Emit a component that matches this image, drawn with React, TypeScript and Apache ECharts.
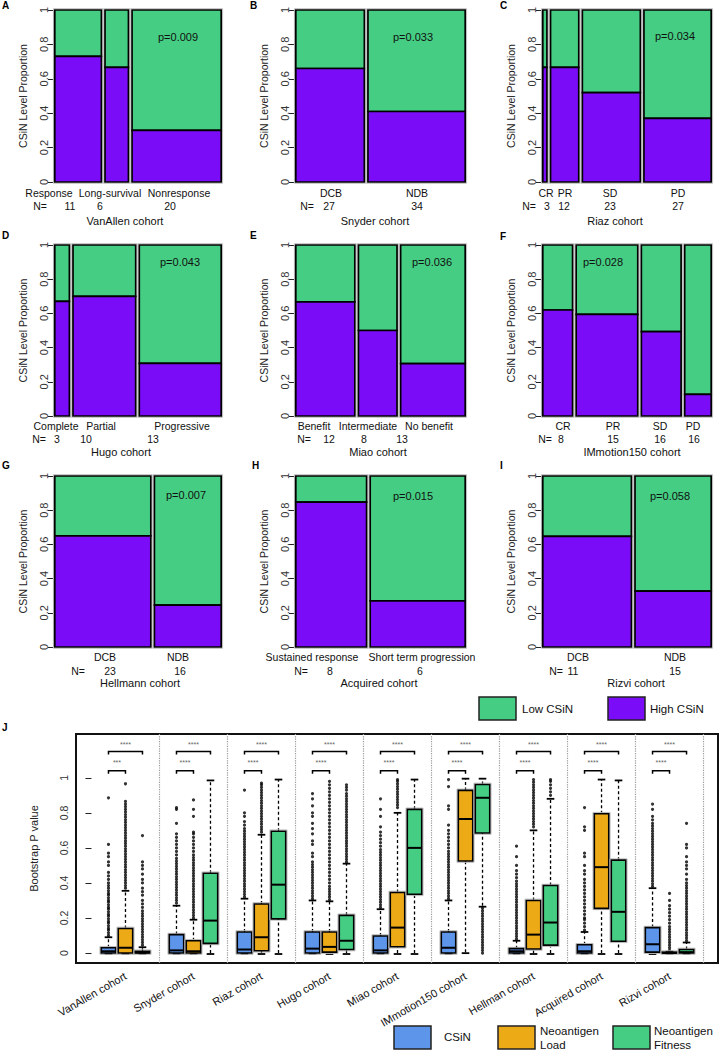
import React, { useEffect, useRef } from 'react';
import * as echarts from 'echarts';

const FONT = "'Liberation Sans', Arial, sans-serif";
const GREEN = '#45CE83';
const PURPLE = '#7A0CF8';
const BLUE = '#5C95EA';
const ORANGE = '#EDAA17';

// ---------- Mosaic panels A-I ----------
const panelLetters = ['A', 'B', 'C', 'D', 'E', 'F', 'G', 'H', 'I'];
const cohortTitles = ['VanAllen cohort', 'Snyder cohort', 'Riaz cohort', 'Hugo cohort', 'Miao cohort', 'IMmotion150 cohort', 'Hellmann cohort', 'Acquired cohort', 'Rizvi cohort'];
const groupLabels = [
  ['Response', 'Long-survival', 'Nonresponse'],
  ['DCB', 'NDB'],
  ['CR', 'PR', 'SD', 'PD'],
  ['Complete', 'Partial', 'Progressive'],
  ['Benefit', 'Intermediate', 'No benefit'],
  ['CR', 'PR', 'SD', 'PD'],
  ['DCB', 'NDB'],
  ['Sustained response', 'Short term progression'],
  ['DCB', 'NDB'],
];
const groupN = [[11, 6, 20], [27, 34], [3, 12, 23, 27], [3, 10, 13], [12, 8, 13], [8, 15, 16, 16], [23, 16], [8, 6], [11, 15]];
// relative tile widths
const tileWidths = [
  [0.295, 0.159, 0.545],
  [0.417, 0.583],
  [0.045, 0.185, 0.358, 0.412],
  [0.107, 0.39, 0.503],
  [0.362, 0.244, 0.394],
  [0.194, 0.379, 0.252, 0.175],
  [0.586, 0.414],
  [0.43, 0.57],
  [0.536, 0.464],
];
// proportion of High CSiN (purple) in each tile
const highShare = [
  [0.73, 0.667, 0.30],
  [0.66, 0.41],
  [0.667, 0.667, 0.52, 0.37],
  [0.67, 0.70, 0.308],
  [0.667, 0.50, 0.306],
  [0.62, 0.594, 0.493, 0.126],
  [0.65, 0.245],
  [0.847, 0.27],
  [0.647, 0.327],
];
const pValues = ['p=0.009', 'p=0.033', 'p=0.034', 'p=0.043', 'p=0.036', 'p=0.028', 'p=0.007', 'p=0.015', 'p=0.058'];

// ---------- Panel J ----------
const jCohorts = ['VanAllen cohort', 'Snyder cohort', 'Riaz cohort', 'Hugo cohort', 'Miao cohort', 'IMmotion150 cohort', 'Hellman cohort', 'Acquired cohort', 'Rizvi cohort'];
const jTicks = [0, 0.2, 0.4, 0.6, 0.8, 1];
// [min, Q1, median, Q3, max]
const csinStats = [
  [0, 0, 0.01, 0.03, 0.09],
  [0, 0, 0.015, 0.105, 0.27],
  [0, 0, 0.02, 0.12, 0.31],
  [0, 0, 0.025, 0.12, 0.3],
  [0, 0, 0.015, 0.097, 0.25],
  [0, 0, 0.03, 0.12, 0.3],
  [0, 0, 0.01, 0.025, 0.07],
  [0, 0, 0.01, 0.047, 0.12],
  [0, 0.005, 0.05, 0.145, 0.37],
];
const loadStats = [
  [0, 0, 0.03, 0.14, 0.355],
  [0, 0, 0.01, 0.07, 0.19],
  [0, 0.013, 0.09, 0.28, 0.675],
  [0, 0.005, 0.035, 0.12, 0.295],
  [0, 0.036, 0.145, 0.345, 0.8],
  [0.005, 0.525, 0.765, 0.928, 0.995],
  [0, 0.023, 0.105, 0.3, 0.7],
  [0, 0.255, 0.49, 0.795, 0.99],
  [0, 0, 0, 0.005, 0.008],
];
const fitStats = [
  [0, 0, 0.003, 0.01, 0.033],
  [0, 0.055, 0.185, 0.455, 0.985],
  [0, 0.195, 0.39, 0.695, 0.99],
  [0, 0.02, 0.07, 0.215, 0.51],
  [0, 0.335, 0.6, 0.82, 0.99],
  [0.27, 0.685, 0.886, 0.962, 0.995],
  [0, 0.045, 0.174, 0.385, 0.88],
  [0, 0.067, 0.235, 0.53, 0.985],
  [0, 0, 0.005, 0.02, 0.06],
];
const csinOutliers = [
  [0.1, 0.115, 0.13, 0.14, 0.155, 0.17, 0.18, 0.195, 0.21, 0.22, 0.235, 0.25, 0.26, 0.275, 0.29, 0.3, 0.315, 0.33, 0.34, 0.355, 0.37, 0.385, 0.4, 0.42, 0.44, 0.46, 0.5, 0.52, 0.55, 0.57, 0.62, 0.886],
  [0.285, 0.3, 0.315, 0.33, 0.345, 0.36, 0.375, 0.39, 0.405, 0.42, 0.435, 0.45, 0.465, 0.48, 0.495, 0.51, 0.525, 0.54, 0.56, 0.58, 0.6, 0.62, 0.64, 0.66, 0.68, 0.74, 0.82, 0.83],
  [0.32, 0.335, 0.35, 0.365, 0.38, 0.395, 0.41, 0.425, 0.44, 0.455, 0.47, 0.485, 0.5, 0.515, 0.53, 0.545, 0.56, 0.575, 0.59, 0.605, 0.62, 0.635, 0.65, 0.665, 0.68, 0.695, 0.71, 0.73, 0.75, 0.78, 0.8, 0.93],
  [0.31, 0.325, 0.34, 0.355, 0.37, 0.385, 0.4, 0.415, 0.43, 0.445, 0.46, 0.475, 0.49, 0.505, 0.52, 0.55, 0.57, 0.62, 0.64, 0.68, 0.71, 0.74, 0.78, 0.8, 0.84, 0.88, 0.91],
  [0.26, 0.275, 0.29, 0.305, 0.32, 0.335, 0.35, 0.365, 0.38, 0.395, 0.41, 0.425, 0.44, 0.455, 0.47, 0.485, 0.5, 0.515, 0.53, 0.545, 0.56, 0.575, 0.59, 0.61, 0.63, 0.65, 0.67, 0.69, 0.72, 0.78, 0.82, 0.88],
  [0.31, 0.325, 0.34, 0.355, 0.37, 0.385, 0.4, 0.415, 0.43, 0.445, 0.46, 0.475, 0.49, 0.505, 0.52, 0.535, 0.55, 0.565, 0.58, 0.6, 0.62, 0.64, 0.66, 0.68, 0.7, 0.73, 0.82, 0.84, 0.95, 0.99],
  [0.08, 0.095, 0.11, 0.125, 0.14, 0.155, 0.17, 0.185, 0.2, 0.215, 0.23, 0.245, 0.26, 0.275, 0.29, 0.305, 0.32, 0.335, 0.35, 0.365, 0.38, 0.395, 0.41, 0.43, 0.45, 0.47, 0.5, 0.55, 0.61],
  [0.13, 0.15, 0.17, 0.19, 0.2, 0.22, 0.24, 0.26, 0.28, 0.3, 0.32, 0.34, 0.36, 0.38, 0.4, 0.42, 0.45, 0.47, 0.5, 0.55, 0.57, 0.7, 0.72, 0.83],
  [0.38, 0.395, 0.41, 0.425, 0.44, 0.455, 0.47, 0.485, 0.5, 0.515, 0.53, 0.545, 0.56, 0.575, 0.59, 0.605, 0.62, 0.635, 0.65, 0.665, 0.68, 0.695, 0.71, 0.725, 0.74, 0.76, 0.78, 0.82, 0.85],
];
const loadOutliers = [
  [0.37, 0.385, 0.4, 0.415, 0.43, 0.445, 0.46, 0.475, 0.49, 0.505, 0.52, 0.535, 0.55, 0.565, 0.58, 0.595, 0.61, 0.625, 0.64, 0.655, 0.67, 0.685, 0.7, 0.715, 0.73, 0.745, 0.76, 0.775, 0.79, 0.805, 0.82, 0.835, 0.85, 0.865, 0.966],
  [0.2, 0.215, 0.23, 0.245, 0.26, 0.275, 0.29, 0.305, 0.32, 0.335, 0.35, 0.365, 0.38, 0.395, 0.41, 0.425, 0.44, 0.455, 0.47, 0.485, 0.5, 0.515, 0.53, 0.545, 0.56, 0.58, 0.6, 0.62, 0.64, 0.66, 0.68, 0.69, 0.78, 0.82, 0.874],
  [0.69, 0.705, 0.72, 0.735, 0.75, 0.765, 0.78, 0.795, 0.81, 0.825, 0.84, 0.855, 0.87, 0.885, 0.9, 0.915, 0.93, 0.945, 0.96, 0.97],
  [0.305, 0.32, 0.335, 0.35, 0.365, 0.38, 0.4, 0.42, 0.44, 0.46, 0.48, 0.5, 0.52, 0.54, 0.56, 0.58, 0.6, 0.62, 0.64, 0.66, 0.68, 0.7, 0.72, 0.74, 0.76, 0.78, 0.8, 0.82, 0.84, 0.86, 0.88, 0.9, 0.92, 0.94, 0.96, 0.98],
  [0.83, 0.845, 0.86, 0.875, 0.89, 0.905, 0.92, 0.935, 0.95, 0.965, 0.98, 0.99],
  [],
  [0.72, 0.735, 0.75, 0.765, 0.78, 0.795, 0.81, 0.825, 0.84, 0.855, 0.87, 0.885, 0.9, 0.915, 0.93, 0.945, 0.96, 0.975, 0.99],
  [],
  [0.015, 0.03, 0.045, 0.06, 0.075, 0.09, 0.105, 0.12, 0.135, 0.15, 0.17, 0.19, 0.21, 0.23, 0.25, 0.27, 0.3, 0.34],
];
const fitOutliers = [
  [0.045, 0.06, 0.075, 0.09, 0.105, 0.12, 0.135, 0.15, 0.165, 0.18, 0.195, 0.21, 0.225, 0.24, 0.26, 0.28, 0.3, 0.33, 0.35, 0.37, 0.4, 0.42, 0.45, 0.48, 0.5, 0.52, 0.67],
  [],
  [],
  [0.52, 0.535, 0.55, 0.565, 0.58, 0.595, 0.61, 0.625, 0.64, 0.655, 0.67, 0.685, 0.7, 0.715, 0.73, 0.745, 0.76, 0.775, 0.79, 0.805, 0.82, 0.835, 0.85, 0.865, 0.88, 0.895, 0.91, 0.93, 0.945, 0.96],
  [],
  [0.0, 0.015, 0.03, 0.045, 0.06, 0.075, 0.09, 0.105, 0.12, 0.135, 0.15, 0.165, 0.18, 0.195, 0.21, 0.225, 0.24, 0.255],
  [0.9, 0.92, 0.94, 0.96, 0.98, 0.99],
  [],
  [0.07, 0.085, 0.1, 0.115, 0.13, 0.145, 0.16, 0.175, 0.19, 0.205, 0.22, 0.235, 0.25, 0.265, 0.28, 0.295, 0.31, 0.325, 0.34, 0.355, 0.37, 0.385, 0.4, 0.42, 0.45, 0.48, 0.5, 0.52, 0.55, 0.6, 0.62, 0.74],
];
const lowerStars = ['***', '****', '****', '****', '****', '****', '****', '****', '****'];
const upperStars = ['****', '****', '****', '****', '****', '****', '****', '****', '****'];
const bottomLegend = ['CSiN', 'Neoantigen Load', 'Neoantigen Fitness'];

// ---------- Layout (pixels) ----------
const colLeft = [53, 294, 541];
const colWidth = [170, 173, 172];
const rowTop = [10, 245, 476];
const rowHeight = [172, 171, 171];
const catY = [193, 426, 657];
const nY = [206, 439, 671];
const titleY = [221, 452, 683];
const letterPos = [[2, 5], [250, 5], [500, 5], [2, 235], [250, 235], [500, 236], [2, 465], [252, 465], [500, 465]];
const catX = [[49, 110, 179], [331, 417], [546, 565, 610, 678], [56, 101, 182], [314, 368, 429], [563, 613, 660, 693], [105, 178], [312, 422], [578, 675]];
const nEqX = [40, 307, 529, 39, 304, 545, 78, 301, 556];
const nX = [[70, 100, 170], [329, 417], [547, 564, 610, 678], [57, 86, 153], [329, 364, 402], [561, 613, 660, 694], [110, 180], [330, 420], [573, 675]];
const titleX = [125, 375, 615, 121, 378, 632, 140, 379, 636];
const pPos = [[178, 37], [413, 37], [675, 36], [180, 262], [432, 262], [603, 262], [186, 495], [413, 496], [670, 496]];

function txt(x: number, y: number, text: string, extra: any = {}) {
  return {
    type: 'text', x, y, silent: true, z: 100, zlevel: 0,
    style: {
      text, fontSize: 10.5, fontFamily: FONT, fill: '#111',
      align: 'center', verticalAlign: 'middle', textAlign: 'center', textVerticalAlign: 'middle',
      ...extra,
    },
  };
}

function mosaicRender(params: any, api: any) {
  const s = api.value(0), e = api.value(1), h = api.value(2);
  const bl = api.coord([s, 0]);
  const tr = api.coord([e, 1]);
  const hm = api.coord([s, h]);
  const x = bl[0] + 1.8;
  const w = tr[0] - bl[0] - 3.6;
  const top = tr[1], bottom = bl[1], mid = hm[1];
  return {
    type: 'group',
    children: [
      { type: 'rect', shape: { x: x - 1.4, y: top - 1.4, width: w + 2.8, height: bottom - top + 2.8 }, style: { fill: 'none', stroke: '#c4c4c4', lineWidth: 1 } },
      { type: 'rect', shape: { x, y: top, width: w, height: mid - top }, style: { fill: GREEN, stroke: '#000', lineWidth: 1.7 } },
      { type: 'rect', shape: { x, y: mid, width: w, height: bottom - mid }, style: { fill: PURPLE, stroke: '#000', lineWidth: 1.7 } },
    ],
  };
}

const boxColors = [BLUE, ORANGE, GREEN];

function boxRender(params: any, api: any) {
  const xv = api.value(0);
  const mn = api.value(1), q1 = api.value(2), md = api.value(3), q3 = api.value(4), mx = api.value(5);
  const ci = api.value(6);
  const cx = api.coord([xv, 0])[0];
  const hw = api.size([0.85, 0])[0] / 2;
  const y = (v: number) => api.coord([xv, v])[1];
  const dash = { stroke: '#000', lineWidth: 1.3, lineDash: [3, 2.5] };
  const solid = { stroke: '#000', lineWidth: 1.8 };
  const boxTop = y(q3), boxBot = y(q1);
  return {
    type: 'group',
    children: [
      { type: 'line', shape: { x1: cx, y1: boxTop, x2: cx, y2: y(mx) }, style: dash },
      { type: 'line', shape: { x1: cx, y1: y(mn), x2: cx, y2: boxBot }, style: dash },
      { type: 'line', shape: { x1: cx - 3.8, y1: y(mx), x2: cx + 3.8, y2: y(mx) }, style: solid },
      { type: 'line', shape: { x1: cx - 3.8, y1: y(mn) + 1, x2: cx + 3.8, y2: y(mn) + 1 }, style: solid },
      { type: 'rect', shape: { x: cx - hw - 1.3, y: boxTop - 1.3, width: 2 * hw + 2.6, height: boxBot - boxTop + 2.6 }, style: { fill: 'none', stroke: '#b8b8b8', lineWidth: 1 } },
      { type: 'rect', shape: { x: cx - hw, y: boxTop, width: 2 * hw, height: Math.max(boxBot - boxTop, 0.5) }, style: { fill: boxColors[ci], stroke: '#000', lineWidth: 1.6 } },
      { type: 'line', shape: { x1: cx - hw, y1: y(md), x2: cx + hw, y2: y(md) }, style: { stroke: '#000', lineWidth: 2 } },
    ],
  };
}

function bracketRender(params: any, api: any) {
  const g = api.value(0);
  const x1 = api.coord([4 * g + 1, 0])[0];
  const x2 = api.coord([4 * g + 2, 0])[0];
  const x3 = api.coord([4 * g + 3, 0])[0];
  const yL = api.coord([0, 1.04])[1];
  const yU = api.coord([0, 1.15])[1];
  const ys1 = api.coord([0, 1.088])[1];
  const ys2 = api.coord([0, 1.192])[1];
  const t = 3;
  const st = { stroke: '#000', lineWidth: 1.5, fill: 'none' };
  const starStyle = (text: string, xx: number, yy: number) => ({
    type: 'text', x: xx, y: yy,
    style: { text, fontSize: 7, fontFamily: FONT, fill: '#666', align: 'center', verticalAlign: 'middle', textAlign: 'center', textVerticalAlign: 'middle' },
  });
  return {
    type: 'group',
    children: [
      { type: 'polyline', shape: { points: [[x1, yL + t], [x1, yL], [x2, yL], [x2, yL + t]] }, style: st },
      { type: 'polyline', shape: { points: [[x1, yU + t], [x1, yU], [x3, yU], [x3, yU + t]] }, style: st },
      starStyle(lowerStars[g], (x1 + x2) / 2, ys1),
      starStyle(upperStars[g], (x1 + x3) / 2, ys2),
    ],
  };
}

function buildOption() {
  const grid: any[] = [];
  const xAxis: any[] = [];
  const yAxis: any[] = [];
  const series: any[] = [];
  const graphic: any[] = [];

  panelLetters.forEach((letter, i) => {
    const r = Math.floor(i / 3), c = i % 3;
    grid.push({ left: colLeft[c], top: rowTop[r], width: colWidth[c], height: rowHeight[r] });
    xAxis.push({ gridIndex: i, type: 'value', min: 0, max: 1, show: false });
    yAxis.push({
      gridIndex: i, type: 'value', min: 0, max: 1, interval: 0.2,
      axisLine: { show: true, lineStyle: { color: '#222', width: 1 } },
      axisTick: { show: true, length: 5, lineStyle: { color: '#222' } },
      axisLabel: { rotate: 90, fontSize: 11, color: '#333', margin: 4, fontFamily: FONT },
      splitLine: { show: false },
      name: 'CSiN Level Proportion', nameLocation: 'middle', nameGap: 25, nameRotate: 90,
      nameTextStyle: { fontSize: 10.5, color: '#222', fontFamily: FONT },
    });
    const ws = tileWidths[i];
    const tot = ws.reduce((a, b) => a + b, 0);
    let acc = 0;
    const data = ws.map((w, j) => {
      const s = acc / tot;
      acc += w;
      return [s, acc / tot, highShare[i][j]];
    });
    series.push({ type: 'custom', xAxisIndex: i, yAxisIndex: i, clip: false, silent: true, data, renderItem: mosaicRender, z: 2 });

    graphic.push(txt(letterPos[i][0], letterPos[i][1], letter, { fontWeight: 'bold', fontSize: 10, align: 'left', textAlign: 'left', fill: '#000' }));
    graphic.push(txt(pPos[i][0], pPos[i][1], pValues[i], { fontSize: 11 }));
    groupLabels[i].forEach((lab, j) => graphic.push(txt(catX[i][j], catY[r], lab)));
    graphic.push(txt(nEqX[i], nY[r], 'N='));
    groupN[i].forEach((n, j) => graphic.push(txt(nX[i][j], nY[r], String(n))));
    graphic.push(txt(titleX[i], titleY[r], cohortTitles[i], { fontSize: 11 }));
  });

  // Panel J
  const J = 9;
  grid.push({ left: 76, top: 734, width: 642, height: 229, show: true, borderColor: '#111', borderWidth: 2, backgroundColor: 'transparent' });
  const labelPos = jCohorts.map((_, g) => 4 * g + 2);
  xAxis.push({
    gridIndex: J, type: 'value', min: -0.91, max: 36.85,
    axisLine: { show: false }, axisTick: { show: false }, splitLine: { show: false },
    axisLabel: {
      customValues: labelPos, rotate: 30, margin: 12, fontSize: 11, color: '#111', fontFamily: FONT,
      formatter: (v: number) => jCohorts[Math.round((v - 2) / 4)] || '',
    },
  });
  yAxis.push({
    gridIndex: J, type: 'value', min: -0.057, max: 1.25,
    axisLine: { show: false },
    axisTick: { show: true, length: 6, customValues: jTicks, lineStyle: { color: '#222' } },
    axisLabel: {
      customValues: jTicks, rotate: 90, margin: 7, fontSize: 10.5, color: '#333', fontFamily: FONT,
      formatter: (v: number) => String(Math.round(v * 10) / 10),
    },
    splitLine: { show: false },
    name: 'Bootstrap P value', nameLocation: 'middle', nameGap: 37, nameRotate: 90,
    nameTextStyle: { fontSize: 11, color: '#222', fontFamily: FONT },
  });

  const statSets = [csinStats, loadStats, fitStats];
  const outSets = [csinOutliers, loadOutliers, fitOutliers];
  const boxData: any[] = [];
  const outData: any[] = [];
  jCohorts.forEach((_, g) => {
    statSets.forEach((set, m) => {
      const x = 4 * g + 1 + m;
      boxData.push([x, ...set[g], m]);
      outSets[m][g].forEach((v) => outData.push([x, v]));
    });
  });

  series.push({
    type: 'scatter', xAxisIndex: J, yAxisIndex: J, data: outData, symbol: 'circle', symbolSize: 3.2,
    itemStyle: { color: '#000' }, silent: true, z: 3,
    markLine: {
      silent: true, symbol: ['none', 'none'], label: { show: false },
      lineStyle: { type: 'dotted', color: '#999', width: 1.2 },
      data: jCohorts.map((_, g) => ({ xAxis: 4 * g + 4 })),
    },
  });
  series.push({ type: 'custom', xAxisIndex: J, yAxisIndex: J, clip: false, silent: true, data: boxData, renderItem: boxRender, z: 4 });
  series.push({ type: 'custom', xAxisIndex: J, yAxisIndex: J, clip: false, silent: true, data: jCohorts.map((_, g) => [g]), renderItem: bracketRender, z: 4 });

  graphic.push(txt(2, 727, 'J', { fontWeight: 'bold', fontSize: 10, align: 'left', textAlign: 'left', fill: '#000' }));

  // top legend
  const legBox = (x: number, y: number, color: string) => ({
    type: 'rect', silent: true, z: 100, shape: { x, y, width: 37, height: 23 },
    style: { fill: color, stroke: '#222', lineWidth: 1.5 },
  });
  graphic.push(legBox(479, 697, GREEN));
  graphic.push(txt(522, 709, 'Low CSiN', { align: 'left', textAlign: 'left', fontSize: 11.5 }));
  graphic.push(legBox(608, 697, PURPLE));
  graphic.push(txt(650, 709, 'High CSiN', { align: 'left', textAlign: 'left', fontSize: 11.5 }));

  // bottom legend
  graphic.push(legBox(394, 1026, BLUE));
  graphic.push(txt(444, 1037, bottomLegend[0], { align: 'left', textAlign: 'left', fontSize: 11.5 }));
  graphic.push(legBox(498, 1026, ORANGE));
  graphic.push(txt(540, 1031, 'Neoantigen', { align: 'left', textAlign: 'left', fontSize: 11.5 }));
  graphic.push(txt(540, 1045, 'Load', { align: 'left', textAlign: 'left', fontSize: 11.5 }));
  graphic.push(legBox(613, 1026, GREEN));
  graphic.push(txt(654, 1031, 'Neoantigen', { align: 'left', textAlign: 'left', fontSize: 11.5 }));
  graphic.push(txt(654, 1045, 'Fitness', { align: 'left', textAlign: 'left', fontSize: 11.5 }));

  return {
    animation: false,
    backgroundColor: '#fff',
    textStyle: { fontFamily: FONT },
    grid, xAxis, yAxis, series,
    graphic: { elements: graphic },
  };
}

export default function App() {
  const ref = useRef<HTMLDivElement>(null);
  useEffect(() => {
    const chart = echarts.init(ref.current as HTMLDivElement, null, { renderer: 'svg' });
    chart.setOption(buildOption() as any);
    return () => chart.dispose();
  }, []);
  return <div ref={ref} style={{ position: 'absolute', left: 0, top: 0, width: 720, height: 1050, background: '#fff' }} />;
}
